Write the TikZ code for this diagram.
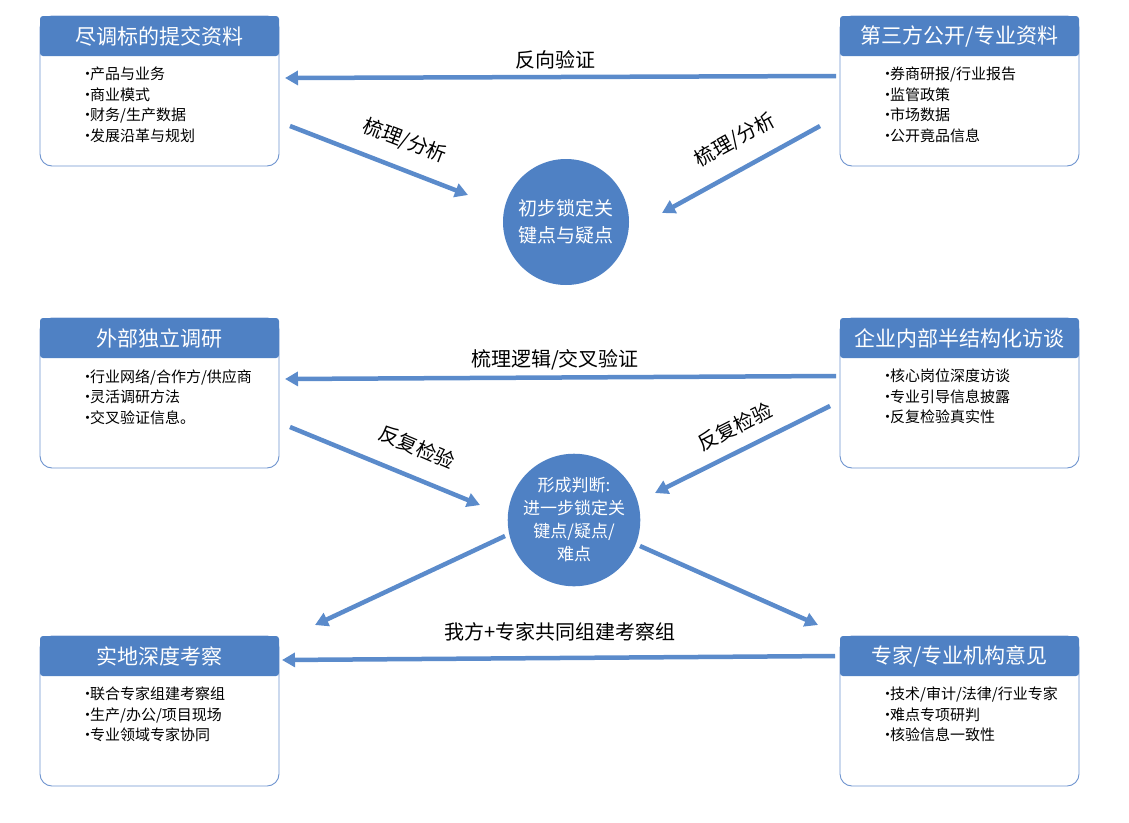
\documentclass[tikz,border=0pt]{standalone}
\usepackage{fontspec}
\setmainfont{Noto Sans CJK SC}
\usetikzlibrary{arrows.meta}
\definecolor{hb}{HTML}{4F81C4}
\definecolor{ar}{HTML}{5B8BCB}
\definecolor{bd}{HTML}{6E94CF}
\newcommand{\bu}{\makebox[5pt][c]{·}}
\begin{document}
\begin{tikzpicture}[x=1pt,y=-1pt,
 arr/.style={draw=ar,line width=4.5pt,-{Triangle[length=13pt,width=14pt]}},
 lab/.style={font=\fontsize{20}{24}\selectfont,text=black},
 body/.style={font=\fontsize{15}{20.5}\selectfont,align=left,anchor=north west,inner sep=0pt},
 head/.style={font=\fontsize{21}{24}\selectfont,text=white},
 circ/.style={circle,fill=hb,text=white,align=center,inner sep=0pt}]
\useasboundingbox (0,0) rectangle (1129,822);
\newcommand{\mybox}[5]{%
 \draw[bd,line width=0.9pt,rounded corners=12pt,fill=white] (#1,#2) rectangle (#1+239,#2+150);
 \fill[hb,rounded corners=3pt] (#1,#2) rectangle (#1+239,#2+40);
 \node[head] (#3) at (#1+119.5,#2+20) {#4};
 \node[body] at (#1+45,#2+51) {#5};}
\mybox{40}{16}{b1}{尽调标的提交资料}{\bu 产品与业务\\\bu 商业模式\\\bu 财务/生产数据\\\bu 发展沿革与规划}
\mybox{840}{16}{b2}{第三方公开/专业资料}{\bu 券商研报/行业报告\\\bu 监管政策\\\bu 市场数据\\\bu 公开竟品信息}
\mybox{40}{318}{b3}{外部独立调研}{\bu 行业网络/合作方/供应商\\\bu 灵活调研方法\\\bu 交叉验证信息。}
\mybox{840}{318}{b4}{企业内部半结构化访谈}{\bu 核心岗位深度访谈\\\bu 专业引导信息披露\\\bu 反复检验真实性}
\mybox{40}{636}{b5}{实地深度考察}{\bu 联合专家组建考察组\\\bu 生产/办公/项目现场\\\bu 专业领域专家协同}
\mybox{840}{636}{b6}{专家/专业机构意见}{\bu 技术/审计/法律/行业专家\\\bu 难点专项研判\\\bu 核验信息一致性}
\node[circ,minimum size=126pt,font=\fontsize{19}{27}\selectfont] (c1) at (566,222) {初步锁定关\\键点与疑点};
\node[circ,minimum size=132pt,font=\fontsize{17}{23}\selectfont] (c2) at (574,520) {形成判断:\\进一步锁定关\\键点/疑点/\\难点};
\foreach \n/\a/\b/\c/\d in {p1/836/76/285/78, p2/290/126/468/195, p3/820/126/662/213,
 p4/836/376/285/379, p5/290/427/480/505, p6/830/406/655/493,
 p7/505/536/315/625, p8/640/546/818/625, p9/835/656/282/660}{
 \coordinate (\n s) at (\a,\b); \coordinate (\n e) at (\c,\d);
 \draw[arr] (\n s) -- (\n e);}
\node[lab] at (555,60) {反向验证};
\node[lab,rotate=-21] at (405,141) {梳理/分析};
\node[lab,rotate=29] at (735,140) {梳理/分析};
\node[lab] at (555,360) {梳理逻辑/交叉验证};
\node[lab,rotate=-23] at (417,447) {反复检验};
\node[lab,rotate=27] at (735,427) {反复检验};
\node[lab] at (560,632) {我方+专家共同组建考察组};
\end{tikzpicture}
\end{document}
